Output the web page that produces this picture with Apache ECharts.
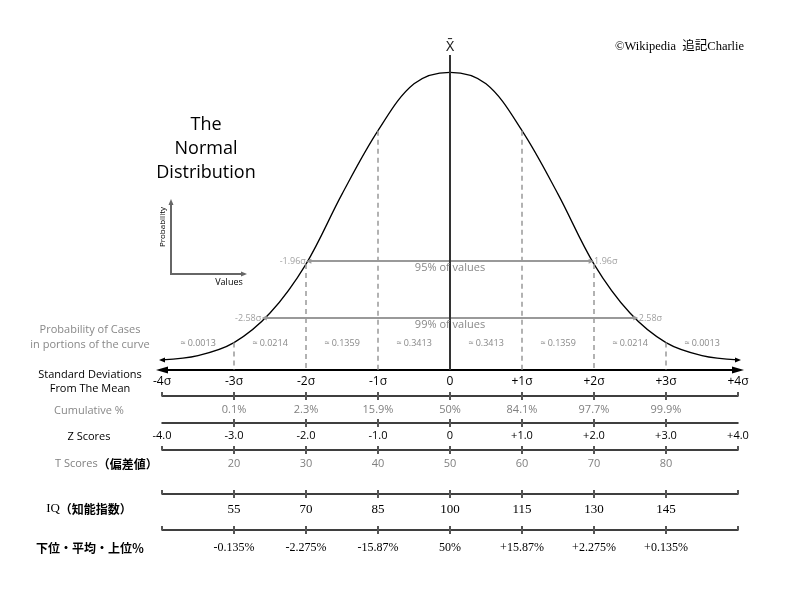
<!DOCTYPE html>
<html>
<head>
<meta charset="utf-8">
<script src="https://cdn.jsdelivr.net/npm/echarts@6/dist/echarts.min.js"></script>
<style>
  html, body { margin: 0; background: #fff; }
  #chart { width: 800px; height: 600px; }
</style>
</head>
<body>
<div id="chart"></div>
<script>
// bell curve: position in sigma, height in density units
const curveZ = [-4, -3.5, -3, -2.5, -2, -1.5, -1, -0.5, 0, 0.5, 1, 1.5, 2, 2.5, 3, 3.5, 4];
const curveY = [0.000, 0.006, 0.024, 0.065, 0.133, 0.230, 0.318, 0.383, 0.399, 0.383, 0.318, 0.230, 0.133, 0.065, 0.024, 0.006, 0.000];

// 95% / 99% bands
const bandZ = [1.96, 2.58];
const bandH = [0.137, 0.058];
const bandText = ['95% of values', '99% of values'];

// portions of the curve between the sigma lines
const portionZ = [-3.5, -2.5, -1.5, -0.5, 0.5, 1.5, 2.5, 3.5];
const portionText = ['≈ 0.0013', '≈ 0.0214', '≈ 0.1359', '≈ 0.3413', '≈ 0.3413', '≈ 0.1359', '≈ 0.0214', '≈ 0.0013'];

// scales under the curve
const sdPos = [-4, -3, -2, -1, 0, 1, 2, 3, 4];
const sigmaLabels = ['-4σ', '-3σ', '-2σ', '-1σ', '0', '+1σ', '+2σ', '+3σ', '+4σ'];
const cumulative = ['', '0.1%', '2.3%', '15.9%', '50%', '84.1%', '97.7%', '99.9%', ''];
const zScores = ['-4.0', '-3.0', '-2.0', '-1.0', '0', '+1.0', '+2.0', '+3.0', '+4.0'];
const tScores = ['', '20', '30', '40', '50', '60', '70', '80', ''];
const iqScores = ['', '55', '70', '85', '100', '115', '130', '145', ''];
const rankPct = ['', '-0.135%', '-2.275%', '-15.87%', '50%', '+15.87%', '+2.275%', '+0.135%', ''];

const dashZ = [-3, -2, -1, 1, 2, 3];

const SANS = '"Open Sans", "Noto Sans", sans-serif';
const SERIF = '"Liberation Serif", "DejaVu Serif", serif';
const CJK = '"Noto Sans CJK JP", sans-serif';
const GREY = '#888';

const yMin = -0.014, yMax = 0.423;
const L = 162, R = 62;

const grids = [{ left: L, right: R, top: 55, bottom: 230 }];
const xAxes = [{
    gridIndex: 0, type: 'value', min: -4, max: 4, interval: 1, position: 'bottom',
    axisLine: { onZero: false, symbol: ['triangle', 'triangle'], symbolSize: [7, 12],
        lineStyle: { color: '#000', width: 2 } },
    axisTick: { show: false }, splitLine: { show: false },
    axisLabel: { color: '#000', fontSize: 12, fontFamily: SANS, margin: 6,
        formatter: v => sigmaLabels[sdPos.indexOf(v)] }
}];
const yAxes = [{ gridIndex: 0, type: 'value', min: yMin, max: yMax, show: false }];

// portion labels row
grids.push({ left: L, right: R, top: 338, height: 0 });
xAxes.push({
    gridIndex: 1, type: 'value', min: -4, max: 4,
    axisLine: { show: false }, axisTick: { show: false }, splitLine: { show: false },
    axisLabel: { customValues: portionZ, color: GREY, fontSize: 9, fontFamily: SANS, margin: 1,
        formatter: v => portionText[portionZ.indexOf(v)] }
});
yAxes.push({ gridIndex: 1, show: false });

const rows = [
    { y: 396, labels: cumulative, color: '#808080', font: SANS, size: 11, margin: 8, ends: true },
    { y: 423, labels: zScores, color: '#000', font: SANS, size: 11, margin: 7, ends: false },
    { y: 450, labels: tScores, color: '#808080', font: SANS, size: 11, margin: 8, ends: true },
    { y: 494, labels: iqScores, color: '#000', font: SERIF, size: 13, margin: 9, ends: true },
    { y: 530, labels: rankPct, color: '#000', font: SERIF, size: 12, margin: 12, ends: true }
];
const inner = [-3, -2, -1, 0, 1, 2, 3];
rows.forEach(r => {
    const gi = grids.length;
    grids.push({ left: L, right: R, top: r.y, height: 0 });
    const shown = sdPos.filter((p, i) => r.labels[i] !== '');
    xAxes.push({
        gridIndex: gi, type: 'value', min: -4, max: 4, position: 'bottom',
        axisLine: { lineStyle: { color: '#000', width: 1.5 } },
        axisTick: { customValues: inner, length: 4, lineStyle: { color: '#555', width: 2 } },
        splitLine: { show: false },
        axisLabel: { customValues: shown, color: r.color, fontSize: r.size, fontFamily: r.font,
            margin: r.margin, formatter: v => r.labels[sdPos.indexOf(v)] }
    });
    xAxes.push({
        gridIndex: gi, type: 'value', min: -4, max: 4, position: 'top',
        axisLine: { show: false }, splitLine: { show: false }, axisLabel: { show: false },
        axisTick: { customValues: r.ends ? sdPos : inner, length: 4, lineStyle: { color: '#555', width: 2 } }
    });
    yAxes.push({ gridIndex: gi, show: false });
});

const curveData = curveZ.map((z, i) => {
    const item = { value: [z, curveY[i]] };
    if (i === 0) Object.assign(item, { symbol: 'triangle', symbolSize: [5, 6], symbolRotate: 90 });
    if (i === curveZ.length - 1) Object.assign(item, { symbol: 'triangle', symbolSize: [5, 6], symbolRotate: -90 });
    return item;
});

const series = [
    {
        type: 'line', xAxisIndex: 0, yAxisIndex: 0, data: curveData, smooth: 0.35,
        symbol: 'circle', symbolSize: 0, showSymbol: true,
        lineStyle: { color: '#000', width: 1.3 }, itemStyle: { color: '#000' }, z: 3,
        markLine: {
            silent: true, symbol: ['none', 'none'], label: { show: false },
            lineStyle: { color: '#999', width: 1.5, type: [5, 4] },
            data: dashZ.map(z => [{ coord: [z, curveY[curveZ.indexOf(z)]] }, { coord: [z, yMin] }])
        }
    },
    {
        type: 'line', xAxisIndex: 0, yAxisIndex: 0, data: [], z: 2,
        markLine: {
            silent: true, symbol: ['triangle', 'triangle'], symbolSize: 5,
            lineStyle: { color: '#999', width: 2, type: 'solid' },
            label: { position: 'insideMiddleBottom', color: GREY, fontSize: 11, fontFamily: SANS, distance: 1 },
            data: bandZ.map((z, i) => [
                { coord: [-z, bandH[i]], name: bandText[i] },
                { coord: [z, bandH[i]] }
            ]),
        }
    },
    {
        type: 'scatter', xAxisIndex: 0, yAxisIndex: 0, symbolSize: 0, z: 2,
        label: { show: true, color: GREY, fontSize: 9, fontFamily: SANS, distance: 3 },
        data: bandZ.flatMap((z, i) => [
            { value: [-z, bandH[i]], label: { position: 'left', formatter: '-' + z + 'σ' } },
            { value: [z, bandH[i]], label: { position: 'right', formatter: z + 'σ' } }
        ])
    },
    {
        type: 'line', xAxisIndex: 0, yAxisIndex: 0, data: [], z: 5,
        markLine: {
            silent: true, symbol: ['none', 'none'],
            lineStyle: { color: '#333', width: 2, type: 'solid' },
            label: { position: 'end', formatter: 'X\u0304', distance: 1,
                color: '#222', fontSize: 14, fontFamily: '"Noto Sans"' },
            data: [[{ coord: [0, yMin] }, { coord: [0, yMax] }]]
        }
    }
];

const txt = (x, y, text, extra) => ({
    type: 'text', x: x, y: y, silent: true,
    style: Object.assign({ text: text, fill: '#000', fontSize: 11, fontFamily: SANS,
        align: 'center', verticalAlign: 'middle' }, extra || {})
});

const graphic = [
    txt(206, 149, 'The\nNormal\nDistribution', { fontSize: 18, lineHeight: 24 }),
    { type: 'polyline', silent: true, shape: { points: [[171, 203], [171, 274], [243, 274]] },
      style: { stroke: '#666', lineWidth: 2, fill: null } },
    { type: 'polygon', silent: true, shape: { points: [[168.5, 205], [171, 199], [173.5, 205]] }, style: { fill: '#666' } },
    { type: 'polygon', silent: true, shape: { points: [[241, 271.5], [247, 274], [241, 276.5]] }, style: { fill: '#666' } },
    Object.assign(txt(163, 227, 'Probability', { fontSize: 8 }), { rotation: Math.PI / 2 }),
    txt(229, 282, 'Values', { fontSize: 9 }),
    txt(615, 47, '©Wikipedia  追記Charlie', { fontSize: 12.5, fontFamily: SERIF + ', "Noto Sans CJK JP"', align: 'left' }),
    txt(90, 337, 'Probability of Cases\nin portions of the curve', { fill: GREY, lineHeight: 15 }),
    txt(90, 382, 'Standard Deviations\nFrom The Mean', { lineHeight: 14 }),
    txt(89, 411, 'Cumulative %', { fill: GREY }),
    txt(89, 437, 'Z Scores'),
    txt(55, 464, '{a|T Scores}{b|（偏差値）}', { align: 'left',
        rich: { a: { fill: '#808080', fontSize: 11, fontFamily: SANS },
                b: { fill: '#000', fontSize: 12, fontWeight: 'bold', fontFamily: CJK } } }),
    txt(89, 509, '{a|IQ}{b|（知能指数）}', {
        rich: { a: { fill: '#000', fontSize: 13, fontFamily: SERIF },
                b: { fill: '#000', fontSize: 12, fontWeight: 'bold', fontFamily: CJK } } }),
    txt(90, 548, '下位・平均・上位％', { fontFamily: CJK, fontWeight: 'bold', fontSize: 12 })
];

const chart = echarts.init(document.getElementById('chart'));
chart.setOption({
    animation: false,
    backgroundColor: '#fff',
    grid: grids.map(g => Object.assign({ outerBoundsMode: 'none' }, g)),
    xAxis: xAxes,
    yAxis: yAxes,
    series: series,
    graphic: graphic
});
</script>
</body>
</html>
